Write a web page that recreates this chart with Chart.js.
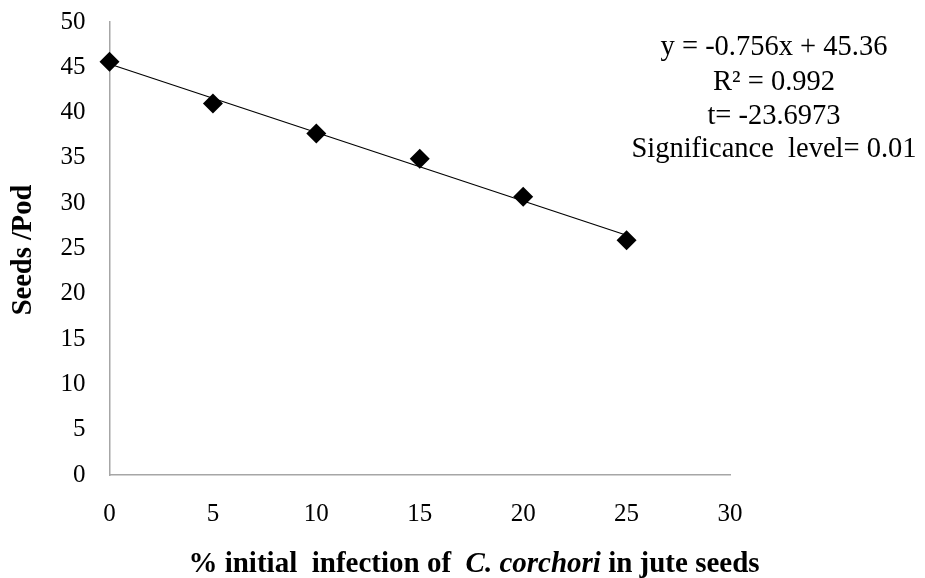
<!DOCTYPE html>
<html><head><meta charset="utf-8">
<script src="https://cdn.jsdelivr.net/npm/chart.js@4.4.1/dist/chart.umd.min.js"></script>
<style>html,body{margin:0;padding:0;background:#fff;}#wrap{width:925px;height:578px;}</style>
</head><body><div id="wrap"><canvas id="c" width="925" height="578"></canvas></div>
<script>
const infection = [0, 5, 10, 15, 20, 25];
const seedsPerPod = [45.6, 41.0, 37.7, 34.9, 30.7, 25.9];
const trendX = [0, 25];
const trendY = [45.36, 26.46];
const annotationLines = ["y = -0.756x + 45.36", "R\u00b2 = 0.992", "t= -23.6973", "Significance  level= 0.01"];
const yTitle = "Seeds /Pod";
const xTitleParts = [["% initial  infection of  ", false], ["C. corchori", true], [" in jute seeds", false]];

const serif = "'Liberation Serif','Times New Roman',serif";

const textPlugin = {
  id: 'texts',
  afterDraw(chart) {
    const ctx = chart.ctx;
    ctx.save();
    ctx.fillStyle = '#000';
    ctx.font = "28.5px " + serif;
    ctx.textAlign = 'center';
    ctx.textBaseline = 'middle';
    const ys = [48, 83, 117, 150];
    annotationLines.forEach((t, i) => ctx.fillText(t, 774, ys[i]));
    ctx.save();
    ctx.translate(24, 250);
    ctx.rotate(-Math.PI / 2);
    ctx.font = "bold 28.5px " + serif;
    ctx.fillText(yTitle, 0, 0);
    ctx.restore();
    let total = 0;
    const fonts = xTitleParts.map(p => (p[1] ? "italic bold 29px " : "bold 29px ") + serif);
    xTitleParts.forEach((p, i) => { ctx.font = fonts[i]; total += ctx.measureText(p[0]).width; });
    let x = 474 - total / 2;
    ctx.textAlign = 'left';
    ctx.textBaseline = 'alphabetic';
    xTitleParts.forEach((p, i) => { ctx.font = fonts[i]; ctx.fillText(p[0], x, 572); x += ctx.measureText(p[0]).width; });
    ctx.restore();
  }
};

new Chart(document.getElementById('c'), {
  type: 'scatter',
  data: {
    datasets: [
      {
        label: 'Seeds/Pod',
        data: infection.map((v, i) => ({x: v, y: seedsPerPod[i]})),
        pointStyle: 'rectRot',
        pointRadius: 10,
        pointHoverRadius: 10,
        backgroundColor: '#000',
        borderColor: '#000',
        borderWidth: 0,
        showLine: false,
        clip: false,
        order: 1
      },
      {
        label: 'Trend',
        data: trendX.map((v, i) => ({x: v, y: trendY[i]})),
        showLine: true,
        borderColor: '#000',
        borderWidth: 1.2,
        pointRadius: 0,
        clip: false,
        order: 2
      }
    ]
  },
  options: {
    responsive: false,
    animation: false,
    devicePixelRatio: 1,
    layout: { padding: { left: 0, right: 195, top: 22, bottom: 0 } },
    plugins: { legend: { display: false }, tooltip: { enabled: false } },
    scales: {
      x: {
        type: 'linear', min: 0, max: 30,
        ticks: { stepSize: 5, color: '#000', font: { family: serif, size: 25 }, padding: 24 },
        grid: { display: false, drawTicks: false },
        border: { color: '#a6a6a6', width: 1.5 },
        afterFit(s) { s.height = 103; s.paddingLeft = 0; s.paddingRight = 0; }
      },
      y: {
        type: 'linear', min: 0, max: 50,
        ticks: { stepSize: 5, color: '#000', font: { family: serif, size: 25 }, padding: 24 },
        grid: { display: false, drawTicks: false },
        border: { color: '#a6a6a6', width: 1.5 },
        afterFit(s) { s.width = 109.5; s.paddingTop = 0; s.paddingBottom = 0; }
      }
    }
  },
  plugins: [textPlugin]
});
</script></body></html>
